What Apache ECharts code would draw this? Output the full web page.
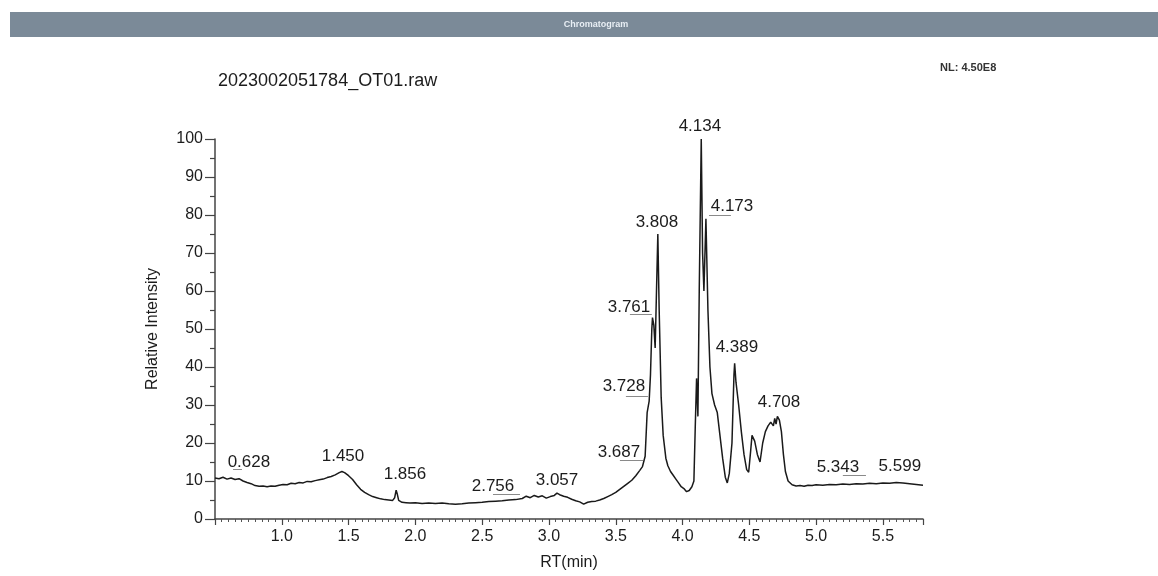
<!DOCTYPE html>
<html>
<head>
<meta charset="utf-8">
<script src="https://cdn.jsdelivr.net/npm/echarts@6/dist/echarts.min.js"></script>
<style>html,body{margin:0;padding:0;background:#fff}#c{width:1158px;height:576px}</style>
</head>
<body>
<div id="c"></div>
<script>
// Retention time (min) and relative intensity (%)
const rt = [0.50,0.53,0.56,0.59,0.62,0.65,0.68,0.71,0.74,0.77,0.80,0.83,0.86,0.89,0.92,0.95,0.98,1.01,1.04,1.07,1.10,1.13,1.16,1.19,1.22,1.25,1.28,1.31,1.34,1.37,1.40,1.43,1.45,1.47,1.50,1.53,1.56,1.59,1.62,1.65,1.68,1.71,1.74,1.77,1.80,1.83,1.845,1.856,1.865,1.875,1.90,1.93,1.96,2.00,2.05,2.10,2.15,2.20,2.25,2.30,2.35,2.40,2.45,2.50,2.55,2.60,2.65,2.70,2.75,2.80,2.83,2.86,2.89,2.92,2.95,2.98,3.01,3.04,3.06,3.08,3.11,3.14,3.17,3.20,3.23,3.26,3.29,3.32,3.35,3.38,3.41,3.44,3.47,3.50,3.53,3.56,3.59,3.62,3.65,3.68,3.70,3.72,3.735,3.75,3.76,3.77,3.775,3.785,3.795,3.805,3.815,3.825,3.84,3.855,3.875,3.89,3.91,3.93,3.95,3.97,3.99,4.01,4.03,4.05,4.07,4.085,4.095,4.105,4.115,4.125,4.14,4.15,4.16,4.175,4.19,4.205,4.22,4.24,4.26,4.28,4.30,4.32,4.335,4.35,4.37,4.385,4.39,4.40,4.42,4.44,4.46,4.48,4.495,4.51,4.52,4.54,4.56,4.58,4.60,4.62,4.64,4.66,4.68,4.69,4.70,4.71,4.725,4.74,4.755,4.77,4.79,4.82,4.85,4.88,4.91,4.94,4.97,5.00,5.05,5.10,5.15,5.20,5.25,5.30,5.35,5.40,5.45,5.50,5.55,5.60,5.65,5.70,5.75,5.80];
const intensity = [10.8,10.6,11.0,10.5,10.8,10.4,10.6,10.0,9.6,9.3,8.8,8.6,8.7,8.5,8.7,8.6,8.9,9.1,9.0,9.4,9.3,9.6,9.5,9.9,9.8,10.1,10.3,10.5,10.9,11.2,11.6,12.2,12.5,12.2,11.4,10.4,9.0,7.8,7.0,6.4,5.9,5.6,5.3,5.1,5.0,4.9,5.6,7.6,6.5,4.9,4.4,4.3,4.2,4.3,4.1,4.2,4.1,4.2,4.0,3.9,4.0,4.2,4.3,4.4,4.6,4.7,4.8,5.0,5.1,5.4,6.0,5.6,6.2,5.8,6.1,5.5,5.9,6.2,6.8,6.4,6.0,5.7,5.2,4.8,4.5,3.9,4.4,4.6,4.7,5.0,5.4,5.9,6.4,7.0,7.8,8.6,9.4,10.2,11.4,12.8,13.8,16.5,28,31,38,50,53,51,45,60,75,55,32,22,16,14,12.5,11.5,10.5,9.5,8.5,8,7.2,7.5,8.5,10,24,37,27,60,100,70,60,79,55,40,33,30,28,22,16,11,9.5,12,20,38,41,36,30,23,17,13,12.3,18,22,20.5,17,15,20,23,24.5,25.5,24.5,26.5,25,27,26,23,17,12.5,10,9.0,8.7,8.8,8.6,8.9,8.8,9.0,8.9,9.1,9.0,9.2,9.1,9.3,9.2,9.4,9.3,9.5,9.4,9.6,9.5,9.3,9.1,8.9];

// Peak annotations: label text and the data position of the label centre
const peakLabels = ['0.628','1.450','1.856','2.756','3.057','3.687','3.728','3.761','3.808','4.134','4.173','4.389','4.708','5.343','5.599'];
const labelRT = [0.754,1.458,1.922,2.581,3.06,3.524,3.561,3.599,3.808,4.130,4.37,4.407,4.722,5.163,5.627];
const labelY = [15.0,16.6,11.8,8.7,10.3,17.6,35.0,55.8,78.2,103.4,82.4,45.3,30.8,13.7,13.9];

// Small baseline underline marks: start RT, end RT, intensity
const markStart = [0.635,2.581,3.531,3.576,3.606,4.198,5.20];
const markEnd = [0.702,2.783,3.704,3.741,3.77,4.362,5.373];
const markY = [13.2,6.6,15.5,32.4,53.9,80.0,11.6];

const xTicks = {min: 0.5, max: 5.8, interval: 0.5};
const yTicks = {min: 0, max: 100, interval: 10};

const lineData = rt.map((t, i) => [t, intensity[i]]);
const labelData = peakLabels.map((s, i) => ({name: s, value: [labelRT[i], labelY[i]]}));
const markData = markStart.map((s, i) => ({coords: [[s, markY[i]], [markEnd[i], markY[i]]]}));

const FONT = 'Liberation Sans, Arial, sans-serif';
const TXT = '#1c1c1c';
const chart = echarts.init(document.getElementById('c'), null, {renderer: 'canvas'});
chart.setOption({
  animation: false,
  backgroundColor: '#ffffff',
  title: {
    text: '2023002051784_OT01.raw',
    left: 213, top: 67,
    textStyle: {fontFamily: FONT, fontSize: 18, fontWeight: 'normal', color: TXT}
  },
  graphic: [
    {type: 'rect', shape: {x: 10, y: 12, width: 1148, height: 25}, style: {fill: '#7b8a98'}},
    {type: 'text', x: 596, y: 25, style: {text: 'Chromatogram', fill: '#e8eef4', font: 'bold 9px ' + FONT, textAlign: 'center', textVerticalAlign: 'middle'}},
    {type: 'text', x: 940, y: 68, style: {text: 'NL: 4.50E8', fill: '#333', font: 'bold 11px ' + FONT, textAlign: 'left', textVerticalAlign: 'middle'}}
  ],
  grid: {left: 215, right: 235, top: 139, bottom: 57, containLabel: false},
  xAxis: {
    type: 'value', min: xTicks.min, max: xTicks.max, interval: xTicks.interval,
    name: 'RT(min)', nameLocation: 'middle', nameGap: 36,
    nameTextStyle: {fontFamily: FONT, fontSize: 16, color: TXT},
    axisLine: {show: true, onZero: false, lineStyle: {color: '#444', width: 1.5}},
    axisTick: {show: true, length: 6, lineStyle: {color: '#444', width: 1.2}},
    minorTick: {show: true, splitNumber: 10, length: 3, lineStyle: {color: '#555', width: 1}},
    axisLabel: {showMinLabel: false, showMaxLabel: false, margin: 10, fontFamily: FONT, fontSize: 16, color: TXT,
      formatter: v => v.toFixed(1)},
    splitLine: {show: false}
  },
  yAxis: {
    type: 'value', min: yTicks.min, max: yTicks.max, interval: yTicks.interval,
    name: 'Relative Intensity', nameLocation: 'middle', nameGap: 54, nameRotate: 90,
    nameTextStyle: {fontFamily: FONT, fontSize: 16, color: TXT},
    axisLine: {show: true, lineStyle: {color: '#444', width: 1.5}},
    axisTick: {show: true, length: 10, lineStyle: {color: '#444', width: 1.2}},
    minorTick: {show: true, splitNumber: 2, length: 5, lineStyle: {color: '#444', width: 1.2}},
    axisLabel: {margin: 12, fontFamily: FONT, fontSize: 16, color: TXT},
    splitLine: {show: false}
  },
  series: [
    {
      type: 'line', data: lineData, showSymbol: false, smooth: false,
      lineStyle: {color: '#1a1a1a', width: 1.5}, clip: true
    },
    {
      type: 'lines', coordinateSystem: 'cartesian2d', data: markData,
      lineStyle: {color: '#8a8a8a', width: 1, opacity: 1}, silent: true
    },
    {
      type: 'scatter', data: labelData, symbolSize: 0, clip: false, silent: true,
      itemStyle: {color: TXT, opacity: 1},
      label: {show: true, position: 'inside', formatter: '{b}', fontFamily: FONT, fontSize: 17,
        color: TXT, opacity: 1, textBorderWidth: 0, textBorderColor: 'transparent'}
    }
  ]
});
</script>
</body>
</html>
